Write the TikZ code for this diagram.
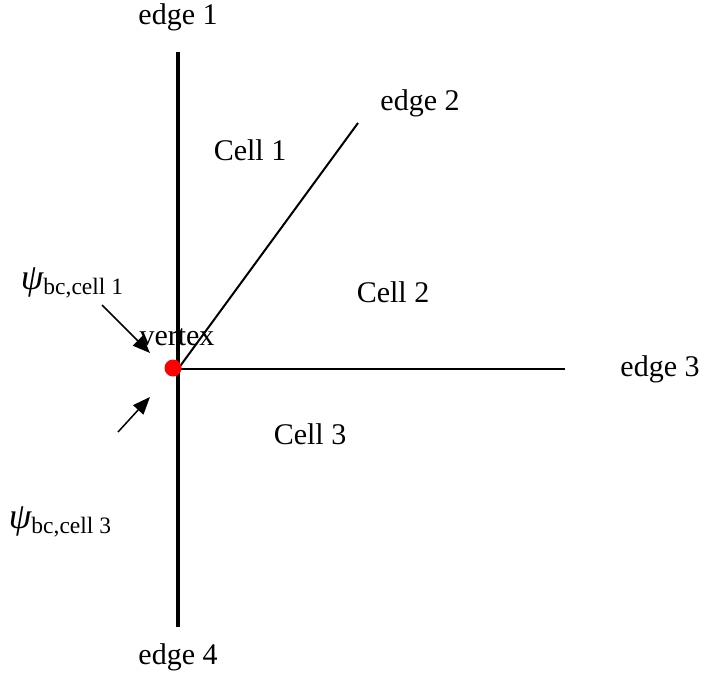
\documentclass[tikz,border=0pt]{standalone}
\usepackage{fontspec}
\setmainfont{Liberation Serif}
\usepackage{tikz}
\usetikzlibrary{positioning,arrows.meta}

\tikzset{
  lbl/.style={inner sep=0pt,font=\fontsize{12}{12}\selectfont},
  bcarrow/.style={-{Triangle[length=7pt,width=5.5pt]},line width=0.6pt},
}
\newcommand{\psibc}[1]{{\itshape\fontsize{14.5}{14.5}\selectfont ψ}\raisebox{-2pt}{\fontsize{9.4}{9.4}\selectfont bc,cell #1}}

\begin{document}
\begin{tikzpicture}[x=0.4pt,y=0.4pt]
\useasboundingbox (0,0) rectangle (706,675);
% edges meeting at the vertex
\coordinate (v) at (178,306);
\coordinate (e1) at (178,623);
\coordinate (e2) at (358,552);
\coordinate (e3) at (565,306);
\coordinate (e4) at (178,48);
\draw[line width=1.6pt] (e4) -- (e1);
\draw[line width=0.8pt] (v) -- (e2);
\draw[line width=0.8pt] (v) -- (e3);
\fill[red] (173,307) circle (8.5);
% labels
\node[lbl] (l1) at (178,658) {edge 1};
\node[lbl] (l2) at (420,572) {edge 2};
\node[lbl] (l3) at (660,306) {edge 3};
\node[lbl] (l4) at (178,18) {edge 4};
\node[lbl] (c1) at (250,525) {Cell 1};
\node[lbl] (c2) at (393,383) {Cell 2};
\node[lbl] (c3) at (310,241) {Cell 3};
\node[lbl] (vx) at (177,338) {vertex};
\node[inner sep=0pt] (p1) at (72,392) {\psibc{1}};
\node[inner sep=0pt] (p3) at (60,153) {\psibc{3}};
% boundary fluxes
\coordinate (a1s) at (102,370);
\coordinate (a1e) at (150,322);
\coordinate (a3s) at (118,243);
\coordinate (a3e) at (150,278);
\draw[bcarrow] (a1s) -- (a1e);
\draw[bcarrow] (a3s) -- (a3e);
\end{tikzpicture}
\end{document}
